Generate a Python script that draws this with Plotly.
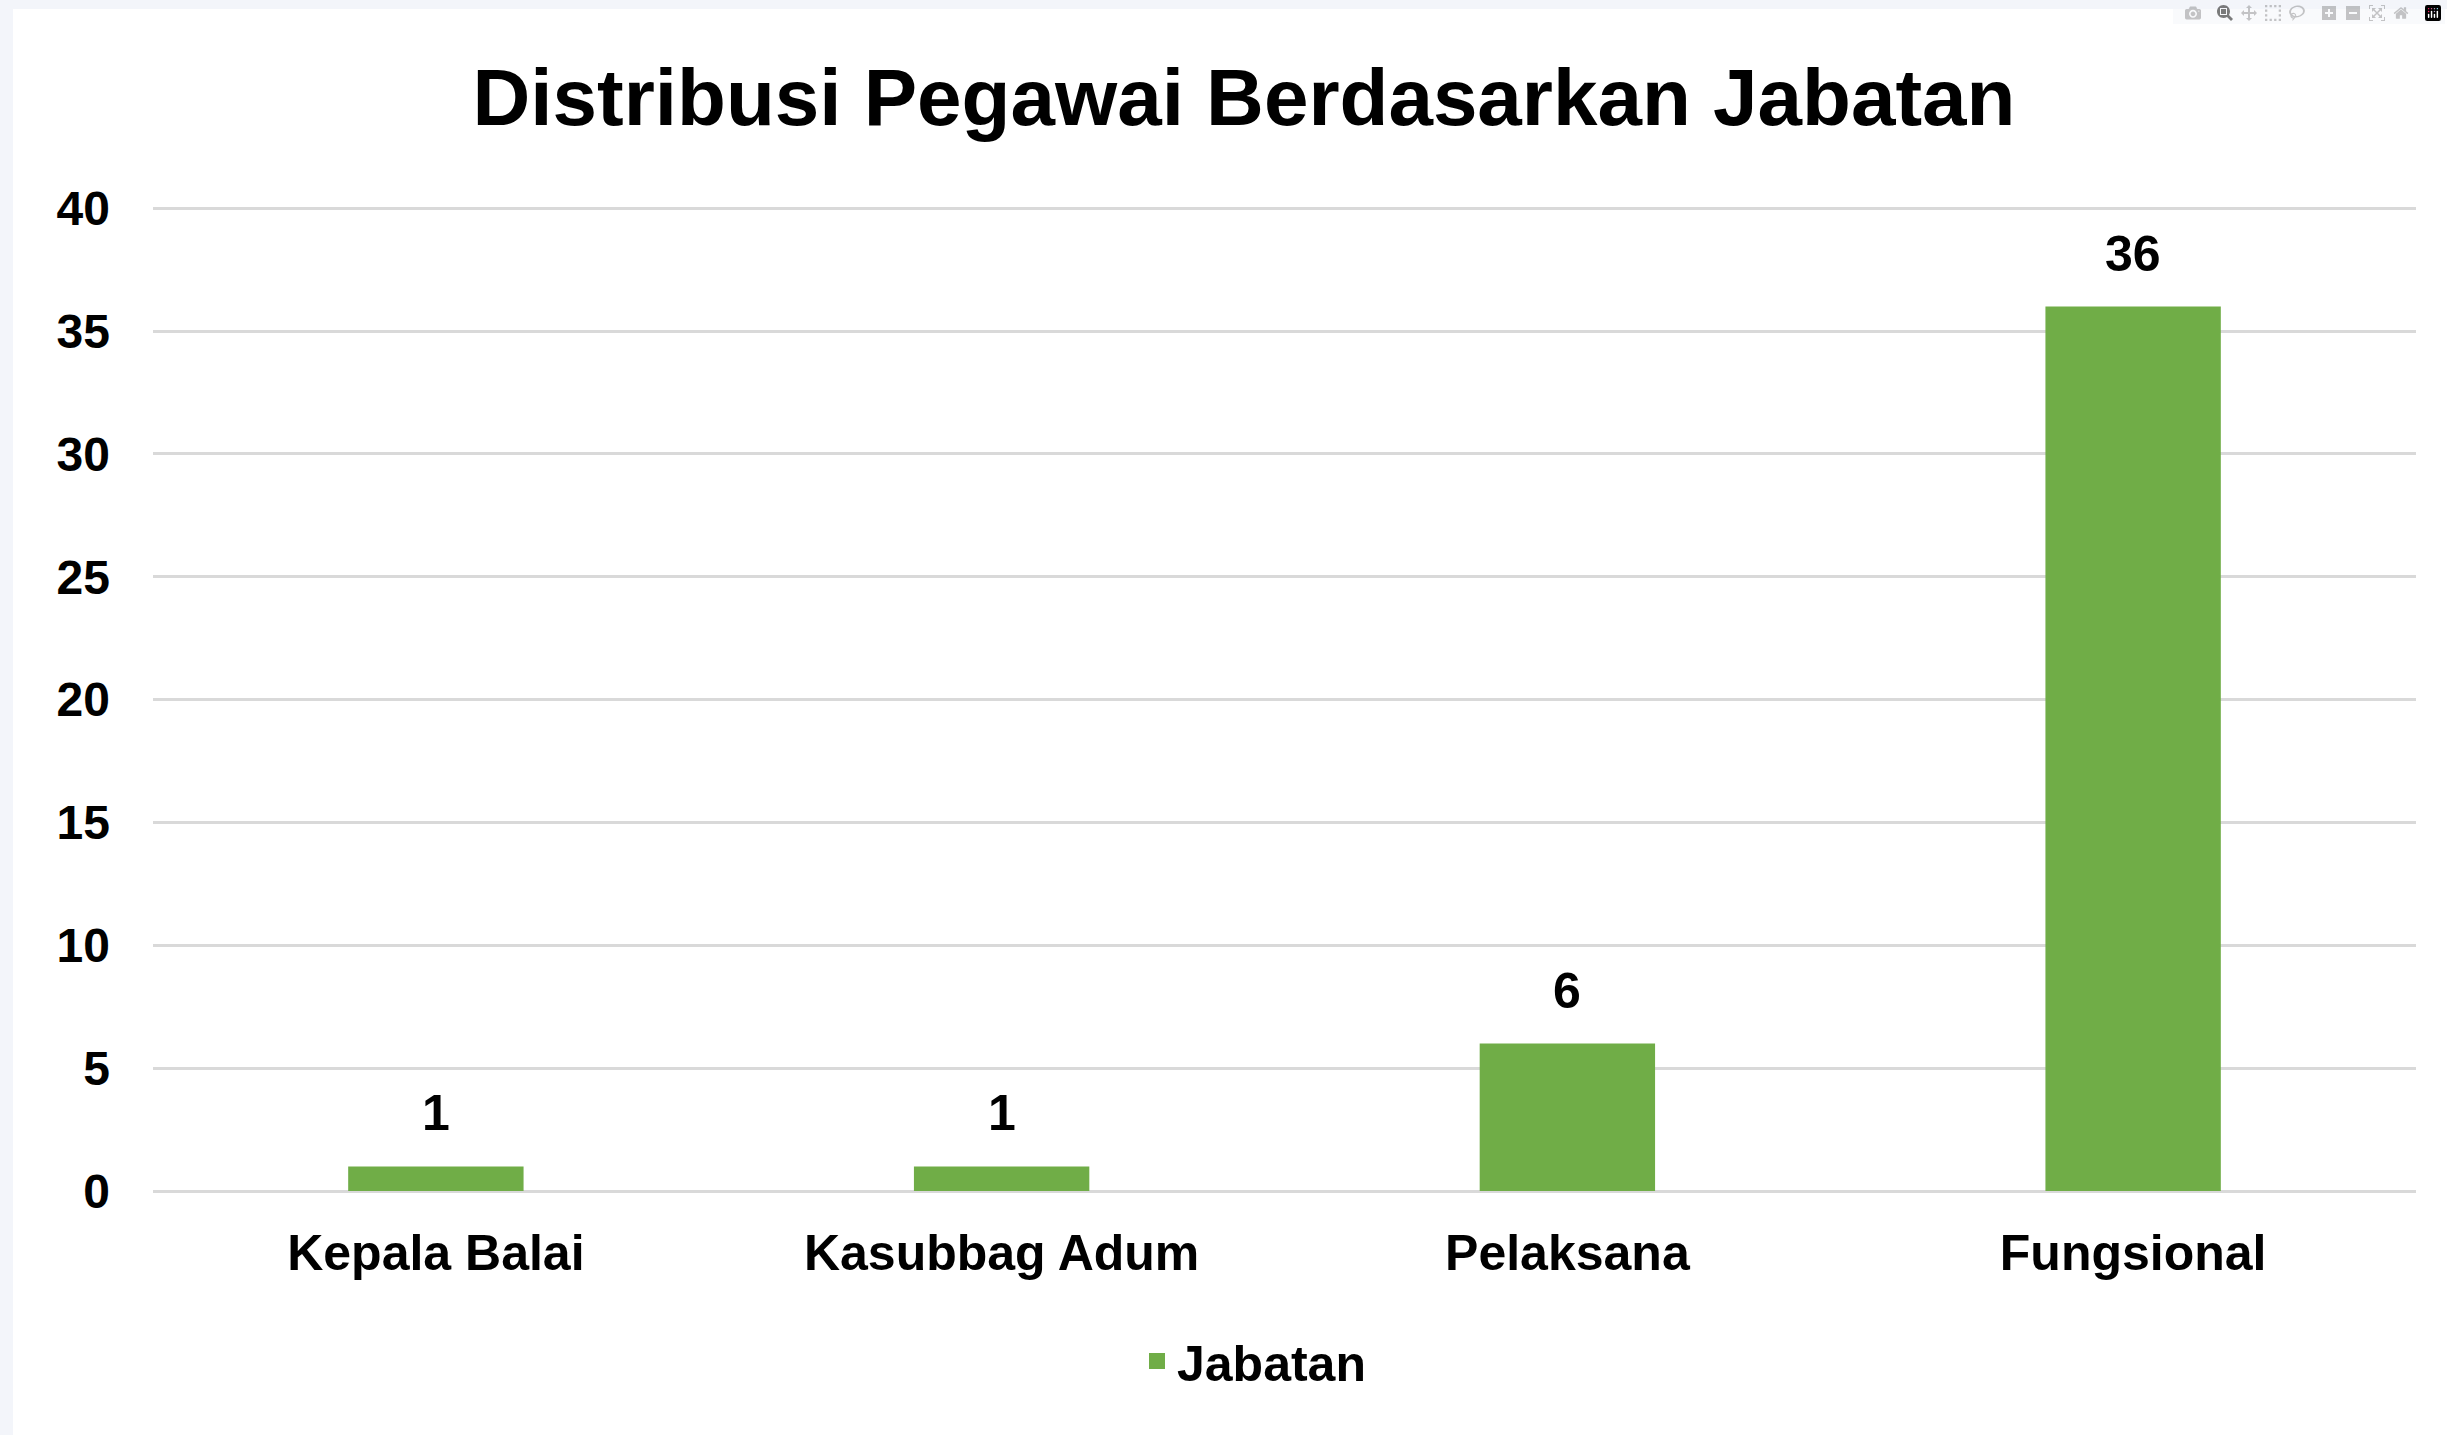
import plotly.graph_objects as go

# ---- data ----
categories = ["Kepala Balai", "Kasubbag Adum", "Pelaksana", "Fungsional"]
values = [1, 1, 6, 36]
series_name = "Jabatan"
chart_title = "Distribusi Pegawai Berdasarkan Jabatan"
y_ticks = [0, 5, 10, 15, 20, 25, 30, 35, 40]

# ---- style ----
W, H = 2447, 1435
L, R, T, B = 153, 31, 207, 244
GREEN = "#70AD47"
FONT = "Liberation Sans, Arial, sans-serif"
BORDER = "#f3f5fa"
Y_MAX = 40.05

fig = go.Figure()
fig.add_trace(go.Bar(
    x=categories, y=values, name=series_name,
    marker=dict(color=GREEN, line=dict(width=0)),
    showlegend=False, hoverinfo="x+y",
))
# legend entry
fig.add_trace(go.Scatter(
    x=[None], y=[None], mode="markers", name=series_name,
    marker=dict(symbol="square", size=16, color=GREEN),
    showlegend=True,
))

for c, v in zip(categories, values):
    fig.add_annotation(
        x=c, y=v, text=str(v), showarrow=False,
        yanchor="middle", yshift=53,
        font=dict(family=FONT, size=50, color="#000000", weight="bold"),
    )

plot_h = H - T - B
plot_w = W - L - R
fig.add_shape(
    type="rect", xref="paper", yref="paper", layer="below",
    x0=(13 - L) / plot_w, x1=(W - L) / plot_w,
    y0=(H - B - H) / plot_h, y1=(H - B - 9) / plot_h,
    fillcolor="white", line=dict(width=0),
)

fig.update_layout(
    width=W, height=H,
    margin=dict(l=L, r=R, t=T, b=B),
    paper_bgcolor=BORDER, plot_bgcolor="white",
    title=dict(
        text=chart_title, xref="container", x=1244 / W, xanchor="center",
        yref="container", y=1 - 97 / H, yanchor="middle",
        font=dict(family=FONT, size=80, color="#000000", weight="bold"),
    ),
    bargap=0.69,
    legend=dict(
        orientation="h", xref="container", x=1254 / W, xanchor="center",
        yref="container", y=1 - 1361 / H, yanchor="middle",
        font=dict(family=FONT, size=50, color="#000000", weight="bold"),
        bgcolor="rgba(0,0,0,0)",
    ),
    font=dict(family=FONT, color="#000000"),
)
fig.update_xaxes(
    range=[-0.5, 3.5], showgrid=False, zeroline=False, showline=False,
    tickfont=dict(family=FONT, size=50, color="#000000", weight="bold"),
    ticklabelstandoff=28,
)
fig.update_yaxes(
    range=[0, Y_MAX], tickvals=y_ticks, showgrid=True, gridcolor="#d9d9d9",
    gridwidth=3, zeroline=True, zerolinecolor="#d9d9d9", zerolinewidth=3,
    showline=False,
    tickfont=dict(family=FONT, size=48, color="#000000", weight="bold"),
    ticklabelstandoff=42,
)

fig.write_html("out.html", post_script="document.body.style.margin='0';")
